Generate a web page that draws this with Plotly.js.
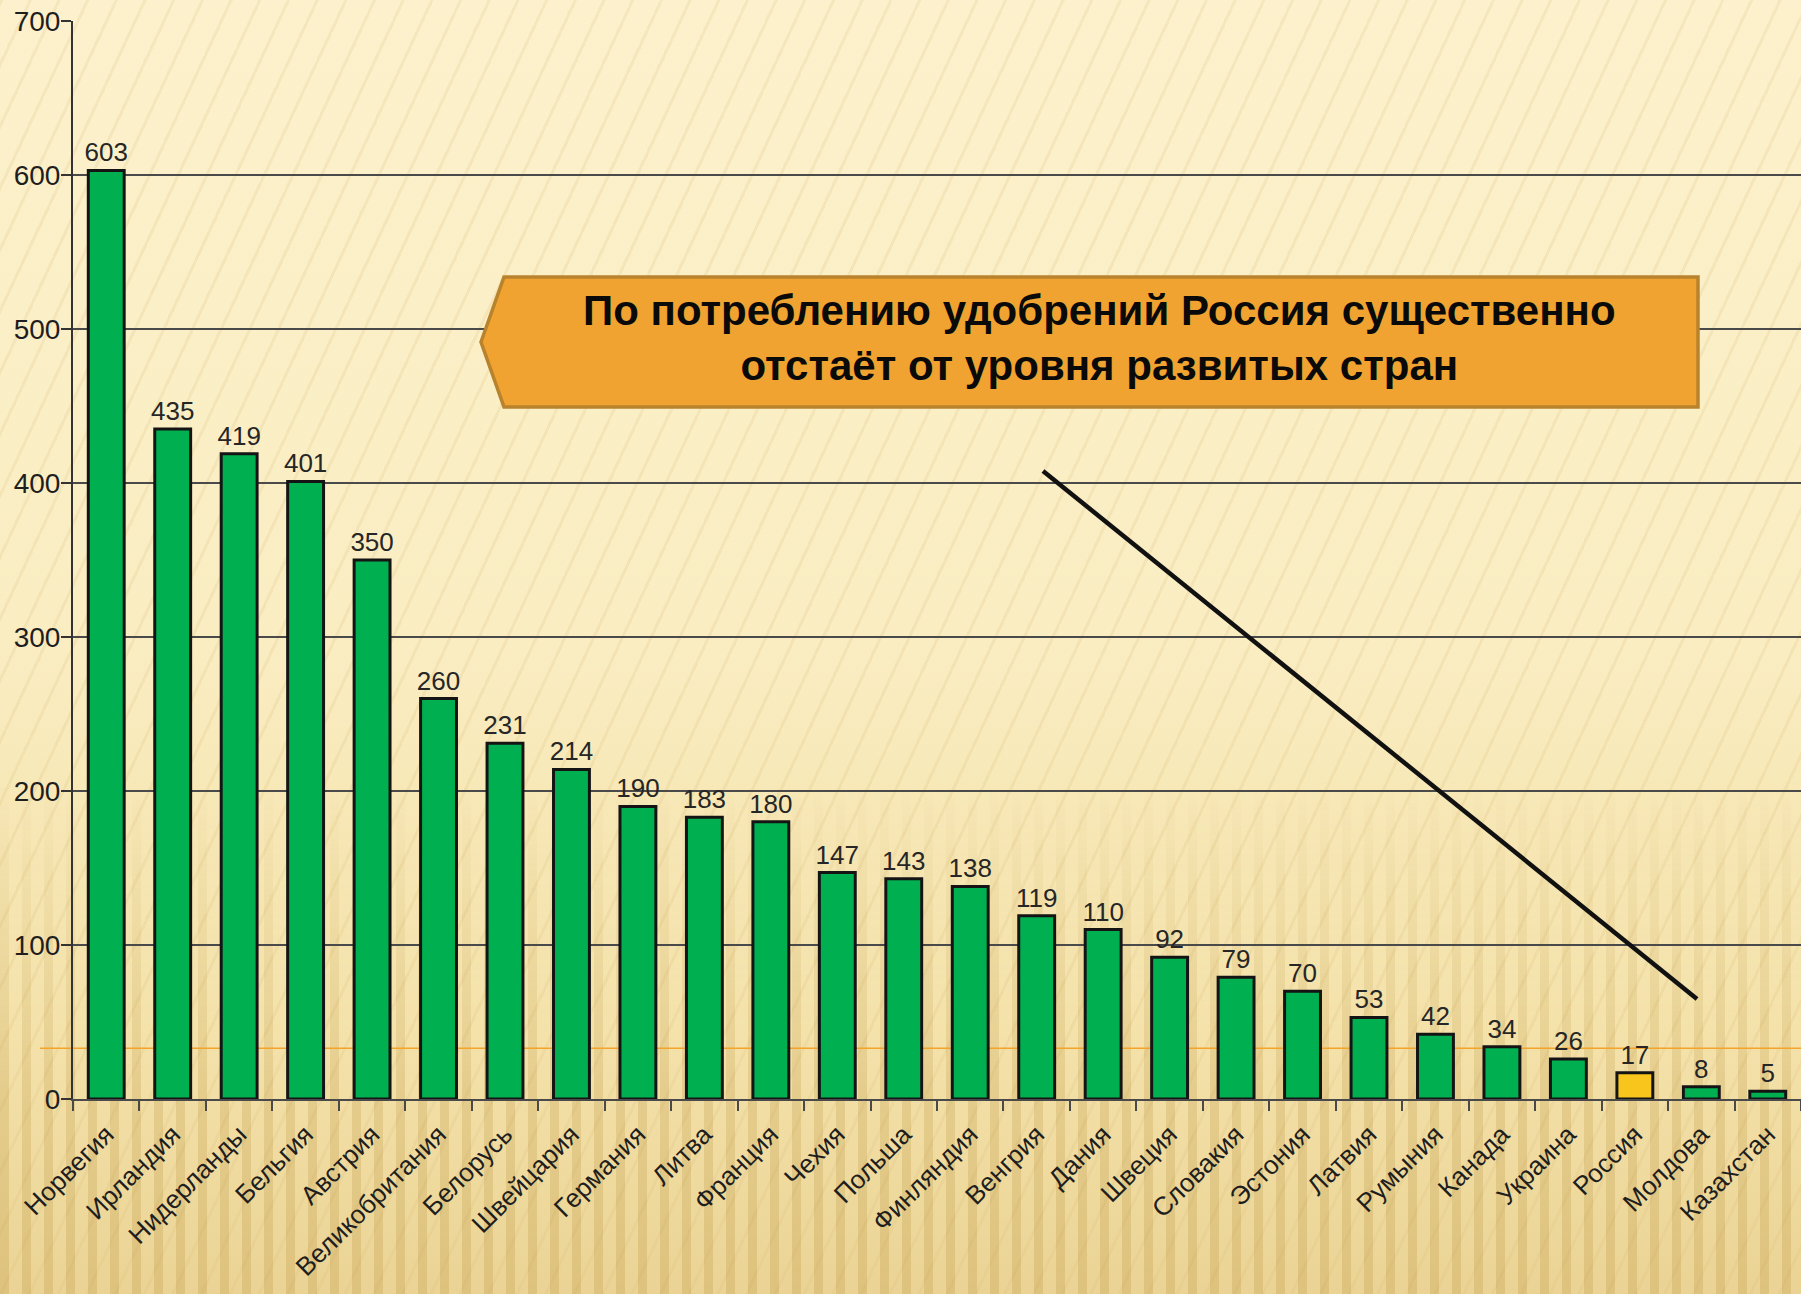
<!DOCTYPE html>
<html>
<head>
<meta charset="utf-8">
<script src="https://cdn.plot.ly/plotly-3.0.1.min.js"></script>
<style>
  html, body { margin: 0; padding: 0; width: 1801px; height: 1294px; overflow: hidden; }
  body {
    background:
      repeating-linear-gradient(115deg, rgba(205,170,95,0.14) 0px, rgba(205,170,95,0.14) 3px, rgba(0,0,0,0) 3px, rgba(0,0,0,0) 26px),
      linear-gradient(to bottom, #fcf1cc 0%, #faedc2 50%, #f3e0a6 80%, #e8cf8c 100%);
  }
  #bottomstripes {
    position: absolute; left: 0; top: 780px; width: 1801px; height: 514px;
    background: repeating-linear-gradient(90deg, rgba(190,155,80,0.24) 0px, rgba(190,155,80,0.24) 9px, rgba(255,245,210,0.12) 9px, rgba(255,245,210,0.12) 22px);
    -webkit-mask-image: linear-gradient(to bottom, rgba(0,0,0,0), rgba(0,0,0,1) 60%);
    mask-image: linear-gradient(to bottom, rgba(0,0,0,0), rgba(0,0,0,1) 60%);
  }
  #chart { position: absolute; left: 0; top: 0; width: 1801px; height: 1294px; }
</style>
</head>
<body>
<div id="bottomstripes"></div>
<div id="chart"></div>
<script>
// Fertilizer consumption by country (kg per hectare)
const countries = ["Норвегия","Ирландия","Нидерланды","Бельгия","Австрия","Великобритания","Белорусь","Швейцария","Германия","Литва","Франция","Чехия","Польша","Финляндия","Венгрия","Дания","Швеция","Словакия","Эстония","Латвия","Румыния","Канада","Украина","Россия","Молдова","Казахстан"];
const values = [603,435,419,401,350,260,231,214,190,183,180,147,143,138,119,110,92,79,70,53,42,34,26,17,8,5];
const highlightCountry = "Россия";
const referenceLevel = [33];
const yTicks = [0,100,200,300,400,500,600,700];
const calloutText = ["По потреблению удобрений Россия существенно", "отстаёт от уровня развитых стран"];

const W = 1801, H = 1294;
const mL = 73, mR = 0, mT = 21, mB = 195;
const pw = W - mL - mR, ph = H - mT - mB;
const px = x => (x - mL) / pw;
const py = y => (H - mB - y) / ph;

const colors = countries.map(c => c === highlightCountry ? "#f7c51c" : "#00b050");

const font = "Liberation Sans, Arial, sans-serif";

const trace = {
  type: "bar",
  x: countries,
  y: values,
  marker: { color: colors, line: { color: "#141414", width: 3 } },
  width: 0.54,
  text: values.map(String),
  textposition: "outside",
  constraintext: "none",
  cliponaxis: false,
  textfont: { family: font, size: 26, color: "#262626" },
  hoverinfo: "skip"
};

// callout pentagon
const tipX = 481, tipY = 342, lx = 504, rx = 1698, ty = 277, by = 407;
const calloutPath = `M ${px(tipX)} ${py(tipY)} L ${px(lx)} ${py(ty)} L ${px(rx)} ${py(ty)} L ${px(rx)} ${py(by)} L ${px(lx)} ${py(by)} Z`;

const layout = {
  width: W, height: H,
  margin: { l: mL, r: mR, t: mT, b: mB, pad: 0 },
  paper_bgcolor: "rgba(0,0,0,0)",
  plot_bgcolor: "rgba(0,0,0,0)",
  showlegend: false,
  xaxis: {
    type: "category",
    tickangle: -45,
    tickfont: { family: font, size: 26, color: "#1e1e1e" },
    ticklabelstandoff: 8,
    showline: true, linecolor: "#4a4a4a", linewidth: 2,
    ticks: "outside", ticklen: 10, tickwidth: 2, tickcolor: "#4a4a4a",
    tickson: "boundaries",
    showgrid: false, zeroline: false,
    fixedrange: true
  },
  yaxis: {
    range: [0, 700],
    tickvals: yTicks,
    ticktext: yTicks.map(String),
    tickfont: { family: font, size: 28, color: "#1e1e1e" },
    ticklabelstandoff: -5,
    showline: true, linecolor: "#333333", linewidth: 2,
    ticks: "outside", ticklen: 10, tickwidth: 2, tickcolor: "#333333",
    showgrid: true, gridcolor: "#4a4a4a", gridwidth: 2,
    zeroline: false,
    fixedrange: true
  },
  shapes: [
    { type: "line", xref: "paper", yref: "y", x0: px(40), x1: 1, y0: referenceLevel[0], y1: referenceLevel[0],
      line: { color: "#f4a42a", width: 1.5 }, layer: "below" },
    { type: "path", xref: "paper", yref: "paper", path: calloutPath,
      fillcolor: "#f0a330", line: { color: "#b9822c", width: 3.5 }, layer: "above" },
    { type: "line", xref: "paper", yref: "paper", x0: px(1043), y0: py(471), x1: px(1697), y1: py(999),
      line: { color: "#111111", width: 4.5 }, layer: "above" }
  ],
  annotations: [
    { xref: "paper", yref: "paper", x: px((lx + rx) / 2 - 2), y: py(338),
      text: "<b>" + calloutText.join("<br>") + "</b>", showarrow: false,
      font: { family: font, size: 42, color: "#0a0a0a" }, align: "center",
      xanchor: "center", yanchor: "middle" }
  ]
};

Plotly.newPlot("chart", [trace], layout, { staticPlot: true, displayModeBar: false });
</script>
</body>
</html>
